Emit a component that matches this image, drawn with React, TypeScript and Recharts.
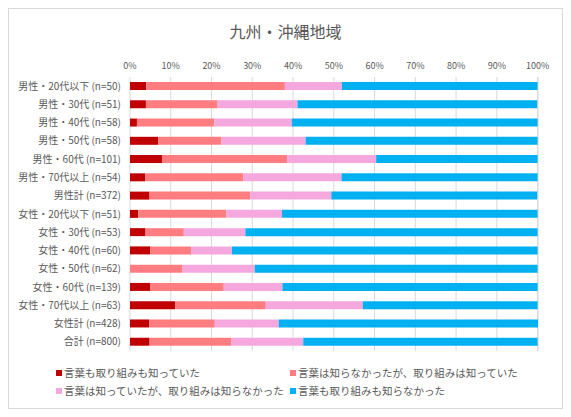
import { Bar, BarChart, CartesianGrid, XAxis, YAxis } from "recharts";

const categories = [
  "男性・20代以下 (n=50)",
  "男性・30代 (n=51)",
  "男性・40代 (n=58)",
  "男性・50代 (n=58)",
  "男性・60代 (n=101)",
  "男性・70代以上 (n=54)",
  "男性計 (n=372)",
  "女性・20代以下 (n=51)",
  "女性・30代 (n=53)",
  "女性・40代 (n=60)",
  "女性・50代 (n=62)",
  "女性・60代 (n=139)",
  "女性・70代以上 (n=63)",
  "女性計 (n=428)",
  "合計 (n=800)",
];

const knewBoth = [4.0, 3.9, 1.7, 6.9, 7.9, 3.7, 4.8, 2.0, 3.8, 5.0, 0, 5.0, 11.1, 4.7, 4.8];
const knewInitiativeOnly = [34.0, 17.6, 19.0, 15.5, 30.7, 24.1, 24.7, 21.6, 9.4, 10.0, 12.9, 18.0, 22.2, 16.1, 20.1];
const knewWordOnly = [14.0, 19.6, 19.0, 20.7, 21.8, 24.1, 19.9, 13.7, 15.1, 10.0, 17.7, 14.4, 23.8, 15.7, 17.6];
const knewNeither = [48.0, 58.8, 60.3, 56.9, 39.6, 48.1, 50.5, 62.7, 71.7, 75.0, 69.4, 62.6, 42.9, 63.6, 57.5];

const percentTicks = [0, 10, 20, 30, 40, 50, 60, 70, 80, 90, 100];

const series = [
  { key: "knewBoth", name: "言葉も取り組みも知っていた", color: "#C00000" },
  { key: "knewInitiativeOnly", name: "言葉は知らなかったが、取り組みは知っていた", color: "#FF7C80" },
  { key: "knewWordOnly", name: "言葉は知っていたが、取り組みは知らなかった", color: "#F5A8DD" },
  { key: "knewNeither", name: "言葉も取り組みも知らなかった", color: "#00B0F0" },
];

const data = categories.map((name, i) => ({
  name,
  knewBoth: knewBoth[i],
  knewInitiativeOnly: knewInitiativeOnly[i],
  knewWordOnly: knewWordOnly[i],
  knewNeither: knewNeither[i],
}));

const font = "'Noto Sans CJK JP', 'Noto Sans', sans-serif";
const textColor = "#595959";

// one-line category label (the default tick wraps long text)
function CategoryTick({ x, y, payload }: any) {
  return (
    <text x={x - 1} y={y} dy={3.5} textAnchor="end" fill={textColor} fontSize={10}>
      {payload.value}
    </text>
  );
}

export default function App() {
  return (
    <div
      style={{
        position: "relative",
        width: 555,
        height: 401,
        boxSizing: "border-box",
        border: "1px solid #D9D9D9",
        background: "#fff",
        fontFamily: font,
      }}
    >
      <div
        style={{
          position: "absolute",
          top: 10,
          left: 0,
          width: 553,
          textAlign: "center",
          fontSize: 16,
          color: textColor,
        }}
      >
        九州・沖縄地域
      </div>
      <BarChart
        width={553}
        height={350}
        data={data}
        layout="vertical"
        margin={{ top: 38, right: 24, bottom: 8, left: 0 }}
        barSize={8}
      >
        <CartesianGrid stroke="#D9D9D9" horizontal={false} />
        <XAxis
          type="number"
          orientation="top"
          domain={[0, 100]}
          ticks={percentTicks}
          tickFormatter={(v) => `${v}%`}
          axisLine={false}
          tickLine={false}
          height={30}
          tick={{ fill: textColor, fontSize: 9 }}
          interval={0}
        />
        <YAxis
          type="category"
          dataKey="name"
          width={121}
          axisLine={false}
          tickLine={false}
          interval={0}
          tick={<CategoryTick />}
        />
        {series.map((s) => (
          <Bar
            key={s.key}
            dataKey={s.key}
            name={s.name}
            stackId="a"
            fill={s.color}
            isAnimationActive={false}
          />
        ))}
      </BarChart>
      {series.map((s, i) => (
        <div
          key={s.key}
          style={{
            position: "absolute",
            left: i % 2 === 0 ? 47 : 281,
            top: i < 2 ? 356 : 374,
            display: "flex",
            alignItems: "center",
            fontSize: 10.5,
            color: textColor,
            whiteSpace: "nowrap",
          }}
        >
          <span
            style={{
              display: "inline-block",
              width: 6,
              height: 6,
              background: s.color,
              marginRight: 2,
            }}
          />
          {s.name}
        </div>
      ))}
    </div>
  );
}
